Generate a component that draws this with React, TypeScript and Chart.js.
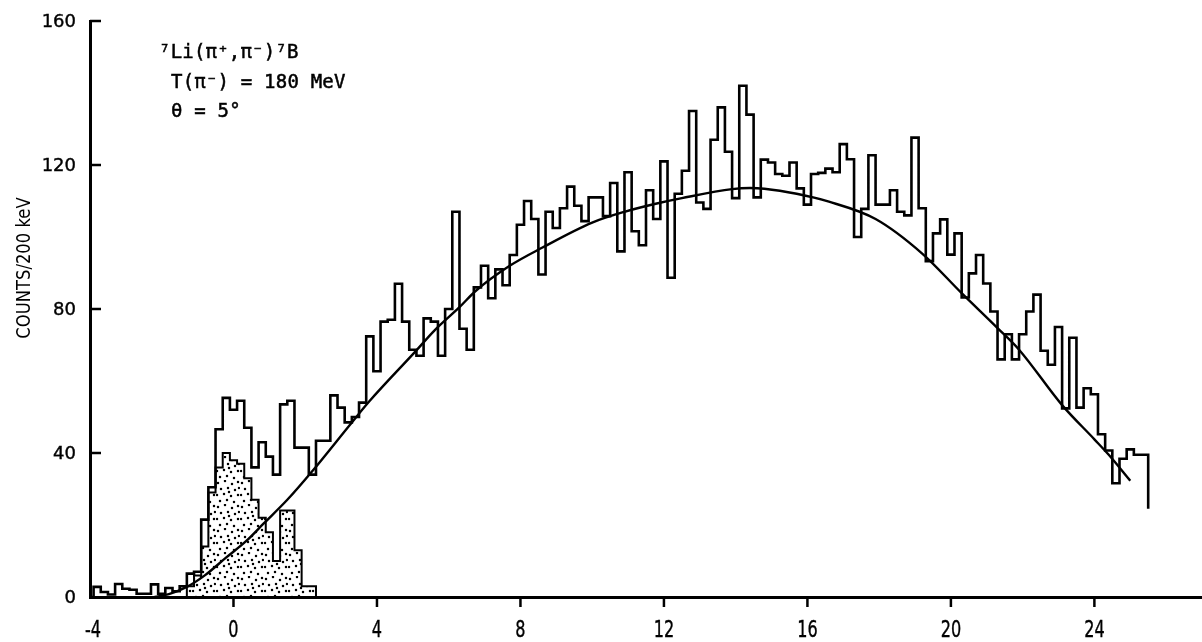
import React, { useEffect, useRef } from "react";
import { Chart, registerables } from "chart.js";

Chart.register(...registerables);

// ---- data ----
const BIN_WIDTH = 0.2; // MeV (200 keV channels)
const totalFirstEdge = -3.9;
const totalCounts = [
  2.8, 1.4, 0.7, 3.6, 2.3, 2.0, 0.9, 0.9, 3.5, 0.9, 2.5, 1.6, 3.0, 6.5, 7.0,
  21.5, 30.5, 46.6, 55.3, 52, 54.5, 47, 36, 43, 39, 34, 53.5, 54.5, 41.5, 41.5,
  34, 43.4, 43.4, 56, 52.6, 48.5, 50, 54, 72.4, 62.7, 76.5, 77, 87, 76.5, 68.7,
  67, 77.4, 76.5, 67, 80, 107, 74.5, 68.7, 86, 92, 83, 91, 86.6, 95, 103.4,
  110, 105, 89.6, 107, 102.5, 108, 114, 108.7, 104.4, 111, 111, 105.8, 115, 96, 118,
  101.6, 97.7, 113, 105, 121, 88.7, 112, 118.4, 135, 109.6, 107.8, 127, 136, 123.7, 110.8,
  142, 134, 111, 121.5, 120.7, 117.5, 117, 120.7, 113.5, 109, 117.5, 117.8, 119, 118, 125.8,
  121.6, 100, 107.8, 122.7, 109, 109, 113, 107, 106, 127.6, 108, 93.3, 101, 104.9, 95.1,
  101, 83.2, 89.9, 95, 87.1, 79.3, 66, 73, 66, 73, 79.3, 84, 68.4, 64.5, 75,
  52.4, 72, 52.6, 58, 56.3, 45.2, 40.7, 31.6, 38.4, 41, 39.5, 39.5,
];
const totalEndDrop = 24.5;

const stippleFirstEdge = -1.3;
const stippleCounts = [3, 6, 14, 29, 36, 40, 38, 37, 33, 27, 22, 18, 10, 24, 24, 13, 3, 3];

const curveX = [
  -2.2, -1.8, -1.3, -0.8, -0.2, 0.35, 0.85, 1.5, 2.2, 3.3, 3.8, 5.1, 5.6, 6.3, 6.75,
  7.7, 8.6, 10.0, 10.9, 11.8, 12.5, 13.9, 14.4, 14.8, 15.7, 16.6, 17.9, 19.2, 20.3,
  21.3, 21.9, 23.1, 24.0, 24.4, 25.0,
];
const curveY = [
  0, 0.8, 2.8, 6, 11, 15.5, 20.5, 27, 35, 48.5, 54.5, 68.5, 74, 80.5, 85,
  92, 97, 104, 107, 109.3, 110.8, 113.3, 113.6, 113.4, 112, 109.8, 105, 95.4, 84.4,
  74.7, 68.7, 53.3, 43.8, 39.5, 32.3,
];

const xTicks = [-4, 0, 4, 8, 12, 16, 20, 24];
const yTicks = [0, 40, 80, 120, 160];

const yTitle = "COUNTS/200 keV";
const noteLines = ["\u2077Li(\u03c0\u207a,\u03c0\u207b)\u2077B", "T(\u03c0\u207b) = 180 MeV", "\u03b8 = 5\u00b0"];

// ---- helpers ----
const r2 = (v: number) => Math.round(v * 100) / 100;

function stepPoints(firstEdge: number, counts: number[], lead: number | null, tail: number) {
  const pts: { x: number; y: number }[] = [];
  if (lead !== null) pts.push({ x: lead, y: 0 });
  counts.forEach((c, i) => pts.push({ x: r2(firstEdge + i * BIN_WIDTH), y: c }));
  const lastEdge = r2(firstEdge + counts.length * BIN_WIDTH);
  pts.push({ x: lastEdge, y: counts[counts.length - 1] });
  pts.push({ x: lastEdge, y: tail });
  return pts;
}

function makeStipple(): CanvasPattern | string {
  const c = document.createElement("canvas");
  c.width = 24;
  c.height = 24;
  const g = c.getContext("2d");
  if (!g) return "#bbb";
  g.fillStyle = "#000";
  const dots = [
    [2, 3], [9, 1], [16, 4], [22, 2], [5, 9], [12, 8], [19, 10], [1, 15],
    [8, 14], [15, 16], [22, 15], [4, 21], [11, 20], [18, 22], [23, 8], [13, 12],
  ];
  for (const [x, y] of dots) {
    g.beginPath();
    g.arc(x, y, 1.25, 0, Math.PI * 2);
    g.fill();
  }
  return g.createPattern(c, "repeat") || "#bbb";
}

function drawText(ctx: CanvasRenderingContext2D, s: string, x: number, y: number) {
  ctx.fillText(s, x, y);
  ctx.strokeText(s, x, y);
}

const decor = {
  id: "decor",
  afterDraw(chart: any) {
    const { ctx, chartArea } = chart;
    const x = chart.scales.x;
    const y = chart.scales.y;
    ctx.save();
    ctx.strokeStyle = "#000";
    ctx.fillStyle = "#000";
    ctx.lineWidth = 2.5;
    // y ticks (inward)
    for (const v of yTicks) {
      if (v <= 0) continue;
      const py = y.getPixelForValue(v);
      ctx.beginPath();
      ctx.moveTo(chartArea.left, py);
      ctx.lineTo(chartArea.left + 11, py);
      ctx.stroke();
    }
    // x ticks (outward)
    for (const v of xTicks) {
      if (v <= -4) continue;
      const px = x.getPixelForValue(v);
      ctx.beginPath();
      ctx.moveTo(px, chartArea.bottom);
      ctx.lineTo(px, chartArea.bottom + 10);
      ctx.stroke();
    }
    ctx.lineWidth = 0.4;
    // y tick labels
    ctx.font = '18px "DejaVu Sans"';
    ctx.textAlign = "right";
    ctx.textBaseline = "middle";
    for (const v of yTicks) {
      drawText(ctx, String(v), 76, y.getPixelForValue(v) + 1);
    }
    // x tick labels (condensed)
    ctx.font = '23px "DejaVu Sans"';
    ctx.textAlign = "center";
    for (const v of xTicks) {
      const px = x.getPixelForValue(v) + (v === -4 ? 3 : 0);
      ctx.save();
      ctx.translate(px, 631);
      ctx.scale(0.7, 1);
      drawText(ctx, String(v), 0, 0);
      ctx.restore();
    }
    // y title
    ctx.save();
    ctx.translate(25, 268);
    ctx.rotate(-Math.PI / 2);
    ctx.scale(0.82, 1);
    ctx.font = '20px "DejaVu Sans"';
    ctx.textAlign = "center";
    ctx.textBaseline = "middle";
    ctx.fillText(yTitle, 0, 0);
    ctx.restore();
    // annotation
    ctx.font = '19px "DejaVu Sans Mono"';
    ctx.textAlign = "left";
    ctx.textBaseline = "alphabetic";
    ctx.lineWidth = 0.5;
    try {
      (ctx as any).letterSpacing = "0.2px";
    } catch (e) {}
    drawText(ctx, noteLines[0], 159, 58);
    drawText(ctx, noteLines[1], 171, 88);
    drawText(ctx, noteLines[2], 171, 117);
    ctx.restore();
  },
};

export default function App() {
  const canvasRef = useRef<HTMLCanvasElement | null>(null);

  useEffect(() => {
    if (!canvasRef.current) return;
    const stipple = makeStipple();
    const chart = new Chart(canvasRef.current, {
      type: "line",
      data: {
        datasets: [
          {
            label: "total",
            data: stepPoints(totalFirstEdge, totalCounts, -4, totalEndDrop),
            stepped: "before",
            borderColor: "#000",
            borderWidth: 2.6,
            pointRadius: 0,
            fill: false,
            order: 0,
          },
          {
            label: "fit",
            data: curveX.map((v, i) => ({ x: v, y: curveY[i] })),
            borderColor: "#000",
            borderWidth: 2.4,
            pointRadius: 0,
            cubicInterpolationMode: "monotone",
            fill: false,
            order: 1,
          },
          {
            label: "ground state",
            data: stepPoints(stippleFirstEdge, stippleCounts, stippleFirstEdge, 0),
            stepped: "before",
            borderColor: "#000",
            borderWidth: 2,
            pointRadius: 0,
            backgroundColor: stipple as any,
            fill: "origin",
            order: 2,
          },
        ],
      },
      options: {
        animation: false,
        responsive: true,
        maintainAspectRatio: false,
        devicePixelRatio: 1,
        layout: { padding: { top: 21, right: 0, left: 0, bottom: 0 } },
        plugins: {
          legend: { display: false },
          tooltip: { enabled: false },
        },
        scales: {
          x: {
            type: "linear",
            min: -4,
            max: 27,
            grid: { display: false },
            border: { display: true, color: "#000", width: 3 },
            ticks: { display: false },
            afterFit: (s: any) => {
              s.height = 45;
            },
          },
          y: {
            type: "linear",
            min: 0,
            max: 160,
            grid: { display: false },
            border: { display: true, color: "#000", width: 3 },
            ticks: { display: false },
            afterFit: (s: any) => {
              s.width = 90;
            },
          },
        },
      },
      plugins: [decor],
    } as any);
    return () => chart.destroy();
  }, []);

  return (
    <div
      style={{
        position: "fixed",
        left: 0,
        top: 0,
        width: 1202,
        height: 642,
        background: "#fff",
      }}
    >
      <canvas ref={canvasRef} />
    </div>
  );
}
